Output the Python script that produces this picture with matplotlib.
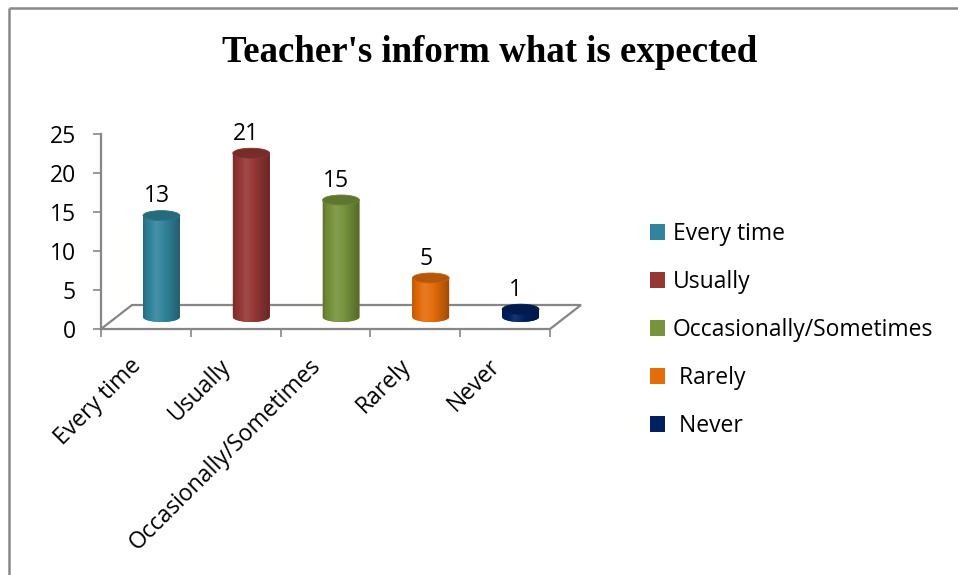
import numpy as np
import matplotlib
matplotlib.use("Agg")
import matplotlib.pyplot as plt
import matplotlib.colors as mcolors
from matplotlib.patches import Ellipse, PathPatch, Rectangle
from matplotlib.path import Path
from matplotlib.lines import Line2D

# ---------------- data ----------------
categories = ["Every time", "Usually", "Occasionally/Sometimes", "Rarely", "Never"]
values = [13, 21, 15, 5, 1]
legend_labels = ["Every time", "Usually", "Occasionally/Sometimes", " Rarely", " Never"]
colors = ["#31849B", "#953735", "#77933C", "#E46C0A", "#002060"]
yticks = [0, 5, 10, 15, 20, 25]
title = "Teacher's inform what is expected"

# ---------------- style ----------------
FONT = "Open Sans"
FS = 16.5
GRAY = "#868686"
W, H = 958, 575

fig = plt.figure(figsize=(W / 100, H / 100), dpi=100)
ax = fig.add_axes([101 / W, 1 - 329 / H, 449 / W, 195 / H])
n = len(categories)
ax.set_xlim(-0.5, n - 0.5)
ax.set_ylim(0, 25)

# depth of the 3-D floor, in data units (31 px right, 24 px up)
px_x = ax.bbox.width / n
px_y = ax.bbox.height / 25
dep_x = 31 / px_x
dep_y = 24 / px_y
ell_h = 10 / px_y          # height of cylinder end ellipses
bw = 0.41                  # bar width

x = np.arange(n)
xc = x + dep_x / 2
yb = dep_y / 2

# floor
floor_x = [-0.5, -0.5 + dep_x, n - 0.5 + dep_x, n - 0.5]
floor_y = [0, dep_y, dep_y, 0]
ax.plot(floor_x, floor_y, color=GRAY, lw=1.6, clip_on=False, zorder=1,
        solid_joinstyle="miter")

# bars (body rectangles)
bars = ax.bar(xc, values, width=bw, bottom=yb, color=colors, zorder=3,
              linewidth=0)


def shade(c, f):
    r = np.array(mcolors.to_rgb(c))
    if f >= 1:
        return r + (1 - r) * (f - 1)
    return r * f


u = np.linspace(0, 1, 64)
fac = np.interp(u, [0, 0.08, 0.35, 0.55, 0.9, 1.0], [0.8, 0.92, 1.1, 1.02, 0.78, 0.7])
t = np.linspace(0, -np.pi, 60)
for i, (b, v, c) in enumerate(zip(bars, values, colors)):
    a = bw / 2
    top = yb + v
    verts = [(xc[i] - a, yb), (xc[i] - a, top), (xc[i] + a, top), (xc[i] + a, yb)]
    verts += list(zip(xc[i] + a * np.cos(t), yb + (ell_h / 2) * np.sin(t)))
    verts.append(verts[0])
    codes = [Path.MOVETO] + [Path.LINETO] * (len(verts) - 2) + [Path.CLOSEPOLY]
    body = PathPatch(Path(verts, codes), facecolor=c, edgecolor="none", zorder=3,
                     clip_on=False)
    ax.add_patch(body)
    img = np.array([[shade(c, f) for f in fac]])
    im = ax.imshow(img, extent=[xc[i] - a, xc[i] + a, yb - ell_h / 2, top],
                   aspect="auto", interpolation="bilinear", zorder=4)
    im.set_clip_path(body)
    topc = shade(c, 0.8)
    ax.add_patch(Ellipse((xc[i], top), bw, ell_h, facecolor=topc,
                         edgecolor=shade(c, 0.9), lw=0.6, zorder=5, clip_on=False))
    ax.annotate(str(v), (xc[i], top), xytext=(-3.5, 14), textcoords="offset points",
                ha="center", va="center", fontsize=FS, family=FONT, color="black",
                zorder=6, annotation_clip=False)

ax.set_xlim(-0.5, n - 0.5)
ax.set_ylim(0, 25)

# axes styling
for s in ["top", "right"]:
    ax.spines[s].set_visible(False)
for s in ["left", "bottom"]:
    ax.spines[s].set_color(GRAY)
    ax.spines[s].set_linewidth(1.6)
ax.set_yticks(yticks)
ax.set_yticklabels([str(v) for v in yticks], fontsize=FS, family=FONT)
ax.tick_params(axis="y", length=6, width=1.2, color=GRAY, pad=12)
ax.set_xticks(np.arange(-0.5, n, 1.0))
ax.set_xticklabels([""] * (n + 1))
ax.tick_params(axis="x", which="major", length=6, width=1.2, color=GRAY)
ax.set_xticks(x, minor=True)
ax.set_xticklabels(categories, minor=True, rotation=45, ha="right",
                   fontsize=FS, family=FONT)
ax.tick_params(axis="x", which="minor", length=0, pad=18)
ax.patch.set_visible(False)

# title
fig.text(490 / W, 1 - 62 / H, title, ha="center", va="baseline", fontsize=26.6,
         fontweight="bold", family="Liberation Serif")

# legend
handles = [Rectangle((0, 0), 1, 1, facecolor=c, edgecolor="none") for c in colors]
fig.legend(handles, legend_labels, loc="upper left",
           bbox_to_anchor=(650 / W, 1 - 222 / H), frameon=False,
           prop={"family": FONT, "size": FS}, handlelength=0.66, handleheight=0.66,
           handletextpad=0.33, labelspacing=1.05, borderpad=0, borderaxespad=0)

# chart border (only top and left visible in the crop)
fig.add_artist(Line2D([9 / W, 9 / W], [0, 1 - 7.5 / H], color="#888888", lw=1.8,
                      transform=fig.transFigure, solid_capstyle="butt"))
fig.add_artist(Line2D([9 / W, 1], [1 - 7.5 / H, 1 - 7.5 / H], color="#888888", lw=1.8,
                      transform=fig.transFigure, solid_capstyle="butt"))

fig.savefig("out.png", dpi=100, facecolor="white")
